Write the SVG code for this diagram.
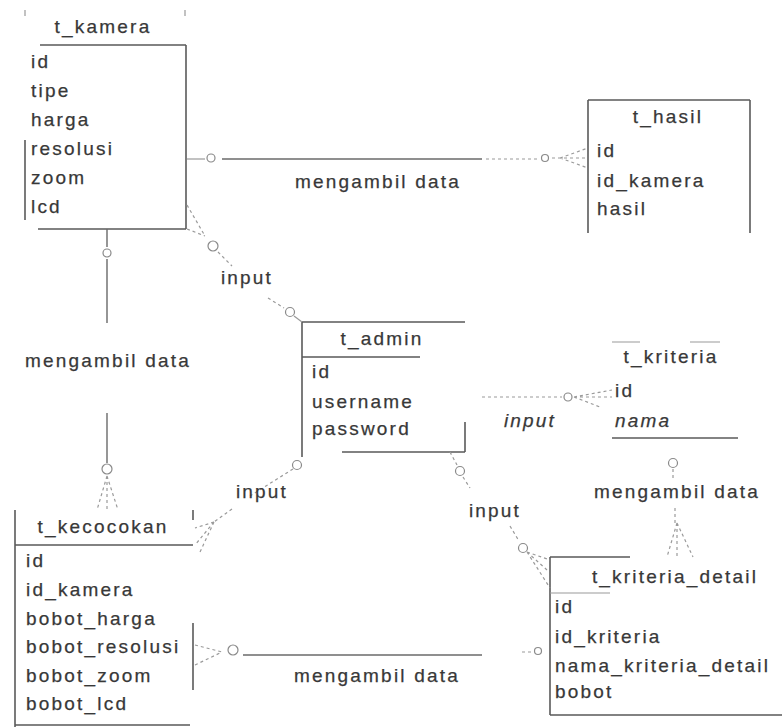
<svg xmlns="http://www.w3.org/2000/svg" width="782" height="727" viewBox="0 0 782 727">
  <style>
    text { font-family: "Liberation Sans", Arial, sans-serif; font-size: 19px; fill: #383838; stroke: #383838; stroke-width: 0.25px; letter-spacing: 2.2px; }
    .title { text-anchor: middle; }
    .lbl { text-anchor: middle; }
    .it { font-style: italic; }
    .edge { stroke: #5a5a5a; stroke-width: 1.6; fill: none; }
    .faint { stroke: #9a9a9a; stroke-width: 1.2; fill: none; }
    .link { stroke: #6a6a6a; stroke-width: 1.4; fill: none; }
    .dash { stroke: #9a9a9a; stroke-width: 1.2; fill: none; stroke-dasharray: 3 3; }
    .ring { stroke: #8a8a8a; stroke-width: 1.2; fill: none; }
  </style>

  <rect width="782" height="727" fill="#ffffff"/>

  <!-- tables -->
  <g id="t_kamera">
    <path class="faint" d="M25 10 v6 M185 10 v6"/>
    <path class="edge" d="M25 140 V220 M40 45 H186 M186 45 V229 M38 229 H186"/>
    <text class="title" x="103" y="33">t_kamera</text>
    <text x="31" y="68">id</text>
    <text x="31" y="97">tipe</text>
    <text x="31" y="126">harga</text>
    <text x="31" y="155">resolusi</text>
    <text x="31" y="184">zoom</text>
    <text x="31" y="213">lcd</text>
  </g>

  <g id="t_hasil">
    <path class="edge" d="M588 100 H750 M588 100 V233 M750 100 V233"/>
    <text class="title" x="668" y="123">t_hasil</text>
    <text x="597" y="157">id</text>
    <text x="597" y="187">id_kamera</text>
    <text x="597" y="215">hasil</text>
  </g>

  <g id="t_admin">
    <path class="edge" d="M302 322 H465 M302 322 V457 M302 357 H420 M342 452 H465 M465 422 V452"/>
    <text class="title" x="382" y="345">t_admin</text>
    <text x="312" y="378">id</text>
    <text x="312" y="408">username</text>
    <text x="312" y="435">password</text>
  </g>

  <g id="t_kriteria">
    <path class="faint" d="M612 342 H640 M690 342 H720"/>
    <path class="edge" d="M612 438 H738"/>
    <text class="title" x="671" y="363">t_kriteria</text>
    <text x="615" y="397">id</text>
    <text class="it" x="615" y="427">nama</text>
  </g>

  <g id="t_kriteria_detail">
    <path class="edge" d="M550 557 H630 M550 557 V715 M550 715 H782"/>
    <path class="faint" d="M550 593 H610"/>
    <text class="title" x="675" y="583">t_kriteria_detail</text>
    <text x="555" y="613">id</text>
    <text x="555" y="643">id_kriteria</text>
    <text x="555" y="672">nama_kriteria_detail</text>
    <text x="555" y="698">bobot</text>
  </g>

  <g id="t_kecocokan">
    <path class="edge" d="M15 510 V727 M15 545 H193 M193 510 V520 M193 623 V690 M15 725 H190"/>
    <text class="title" x="103" y="533">t_kecocokan</text>
    <text x="26" y="567">id</text>
    <text x="26" y="596">id_kamera</text>
    <text x="26" y="625">bobot_harga</text>
    <text x="26" y="653">bobot_resolusi</text>
    <text x="26" y="682">bobot_zoom</text>
    <text x="26" y="710">bobot_lcd</text>
  </g>

  <!-- relationships -->
  <g id="connectors">
    <!-- t_kamera to t_hasil -->
    <path class="faint" d="M187 159 H205"/>
    <circle class="ring" cx="211" cy="158" r="4"/>
    <path class="link" d="M222 159 H482"/>
    <path class="dash" d="M486 159 H538"/>
    <circle class="ring" cx="545" cy="158" r="3.5"/>
    <path class="dash" d="M552 158 H588 M560 158 L588 148 M560 158 L588 168"/>
    <text class="lbl" x="378" y="188">mengambil data</text>

    <!-- t_kamera to t_admin -->
    <path class="dash" d="M187 205 L205 236 M187 229 L205 236"/>
    <circle class="ring" cx="213" cy="246" r="5"/>
    <path class="dash" d="M218 252 L232 266"/>
    <text class="lbl" x="247" y="284">input</text>
    <path class="dash" d="M268 298 L284 308"/>
    <circle class="ring" cx="290" cy="312" r="4.5"/>
    <path class="faint" d="M294 316 L302 322"/>

    <!-- t_kamera to t_kecocokan -->
    <path class="link" d="M107 229 V247 M107 259 V323"/>
    <circle class="ring" cx="107" cy="253" r="4"/>
    <text class="lbl" x="108" y="367">mengambil data</text>
    <path class="link" d="M107 413 V463"/>
    <circle class="ring" cx="107" cy="469" r="5"/>
    <path class="dash" d="M107 476 L97 510 M107 476 V510 M107 476 L118 510"/>

    <!-- t_admin to t_kecocokan -->
    <circle class="ring" cx="297" cy="465" r="4.5"/>
    <path class="dash" d="M293 469 L250 496"/>
    <text class="lbl" x="262" y="498">input</text>
    <path class="dash" d="M232 509 L214 522 M214 522 L195 528 M214 522 L195 545 M214 522 L200 552"/>

    <!-- t_admin to t_kriteria -->
    <path class="dash" d="M482 397 H562"/>
    <circle class="ring" cx="568" cy="397" r="4"/>
    <path class="dash" d="M574 397 L612 390 M574 397 L612 397 M574 397 L600 407"/>
    <text class="lbl it" x="530" y="427">input</text>

    <!-- t_admin to t_kriteria_detail -->
    <path class="dash" d="M450 452 L457 465"/>
    <circle class="ring" cx="460" cy="471" r="4.5"/>
    <path class="dash" d="M463 477 L470 488"/>
    <text class="lbl" x="495" y="517">input</text>
    <path class="dash" d="M510 526 L519 541"/>
    <circle class="ring" cx="523" cy="548" r="4.5"/>
    <path class="dash" d="M527 552 L550 560 M527 552 L550 588 M527 552 L547 570"/>

    <!-- t_kriteria to t_kriteria_detail -->
    <circle class="ring" cx="673" cy="463" r="4.5"/>
    <path class="dash" d="M673 469 V478"/>
    <text class="lbl" x="677" y="498">mengambil data</text>
    <path class="dash" d="M675 508 V523 M677 523 L667 557 M677 523 L693 557 M677 523 V557"/>

    <!-- t_kecocokan to t_kriteria_detail -->
    <path class="dash" d="M195 645 L222 652 M195 665 L222 652"/>
    <circle class="ring" cx="233" cy="650" r="5"/>
    <path class="link" d="M243 655 H482"/>
    <path class="dash" d="M522 652 L532 652"/>
    <circle class="ring" cx="538" cy="651" r="3.5"/>
    <text class="lbl" x="377" y="682">mengambil data</text>
  </g>
</svg>
